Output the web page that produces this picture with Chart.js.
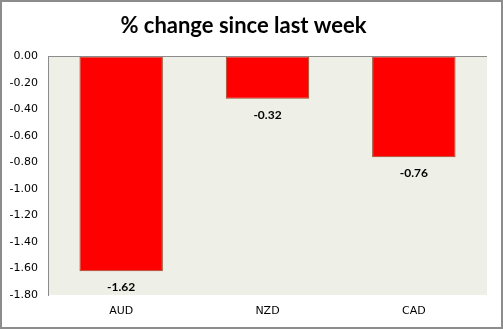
<!DOCTYPE html>
<html>
<head>
<meta charset="utf-8">
<script src="https://cdn.jsdelivr.net/npm/chart.js@4"></script>
<style>
  html, body { margin: 0; padding: 0; background: #fff; }
  #wrap { width: 503px; height: 329px; position: relative; }
</style>
</head>
<body>
<div id="wrap"><canvas id="changeChart" width="503" height="329"></canvas></div>
<script>
const currencies = ["AUD", "NZD", "CAD"];
const weeklyChange = [-1.62, -0.32, -0.76];
const yTicks = [0, -0.2, -0.4, -0.6, -0.8, -1.0, -1.2, -1.4, -1.6, -1.8];

// plot background, outer frame and value labels
const decorations = {
  id: "decorations",
  beforeDraw(chart) {
    const { ctx, chartArea: a } = chart;
    ctx.save();
    ctx.fillStyle = "#fff";
    ctx.fillRect(0, 0, chart.width, chart.height);
    ctx.fillStyle = "#eef0e8";
    ctx.fillRect(a.left, a.top, a.right - a.left, a.bottom - a.top);
    ctx.strokeStyle = "#8c8c8c";
    ctx.lineWidth = 2;
    ctx.strokeRect(1, 1, chart.width - 2, chart.height - 2);
    ctx.restore();
  },
  afterDatasetsDraw(chart) {
    const { ctx } = chart;
    const meta = chart.getDatasetMeta(0);
    ctx.save();
    ctx.font = "bold 12px Lato";
    ctx.fillStyle = "#000";
    ctx.textAlign = "center";
    ctx.textBaseline = "middle";
    meta.data.forEach((bar, i) => {
      ctx.fillText(weeklyChange[i].toFixed(2), bar.x, bar.y + 16);
    });
    ctx.restore();
  }
};

new Chart(document.getElementById("changeChart"), {
  type: "bar",
  data: {
    labels: currencies,
    datasets: [{
      data: weeklyChange,
      backgroundColor: "#ff0000",
      borderColor: "#9a4a2a",
      borderWidth: 1,
      borderSkipped: false,
      categoryPercentage: 0.57,
      barPercentage: 1.0
    }]
  },
  options: {
    responsive: false,
    animation: false,
    layout: { padding: { left: 0, right: 16, top: 0, bottom: 0 } },
    plugins: {
      legend: { display: false },
      tooltip: { enabled: false },
      title: {
        display: true,
        text: "% change since last week",
        color: "#000",
        font: { family: "Lato", size: 22, weight: "bold", lineHeight: 1.2 },
        padding: { top: 13, bottom: 17 }
      }
    },
    scales: {
      x: {
        grid: { display: false, drawTicks: false },
        border: { display: false },
        ticks: { color: "#000", padding: 10, font: { family: "DejaVu Sans", size: 11 } },
        afterFit(scale) { scale.height = 34; }
      },
      y: {
        min: -1.8,
        max: 0,
        grid: { display: false, drawTicks: false },
        border: { display: true, color: "#8c8c8c", width: 1 },
        afterBuildTicks(scale) { scale.ticks = yTicks.map(v => ({ value: v })); },
        ticks: {
          color: "#000",
          padding: 10,
          font: { family: "DejaVu Sans", size: 11 },
          callback: v => v.toFixed(2)
        },
        afterFit(scale) { scale.width = 48; }
      }
    }
  },
  plugins: [decorations, {
    id: "zeroLine",
    afterDatasetsDraw(chart) {
      const { ctx, chartArea: a, scales } = chart;
      const y0 = Math.round(scales.y.getPixelForValue(0)) + 0.5;
      ctx.save();
      ctx.strokeStyle = "#8c8c8c";
      ctx.lineWidth = 1;
      ctx.beginPath();
      ctx.moveTo(a.left, y0);
      ctx.lineTo(a.right, y0);
      ctx.stroke();
      ctx.restore();
    }
  }]
});
</script>
</body>
</html>
